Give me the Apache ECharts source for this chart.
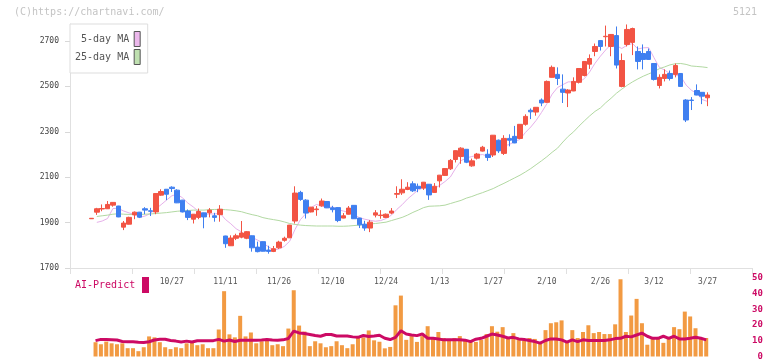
<!DOCTYPE html>
<html><head><meta charset="utf-8">
<script src="https://cdn.jsdelivr.net/npm/echarts@6/dist/echarts.min.js"></script>
<style>html,body{margin:0;padding:0;background:#fff}#c{width:772px;height:361px}</style>
</head><body><div id="c"></div>
<script>
const dates = ['10/3','10/6','10/7','10/8','10/9','10/10','10/14','10/15','10/16','10/17',
'10/20','10/21','10/22','10/23','10/24','10/27','10/28','10/29','10/30','10/31',
'11/4','11/5','11/6','11/7','11/10','11/11','11/12','11/13','11/14','11/17',
'11/18','11/19','11/20','11/21','11/25','11/26','11/27','11/28','12/1','12/2',
'12/3','12/4','12/5','12/8','12/9','12/10','12/11','12/12','12/15','12/16',
'12/17','12/18','12/19','12/22','12/23','12/24','12/25','12/26','12/29','12/30',
'1/5','1/6','1/7','1/8','1/9','1/13','1/14','1/15','1/16','1/19',
'1/20','1/21','1/22','1/23','1/26','1/27','1/28','1/29','1/30','2/2',
'2/3','2/4','2/5','2/6','2/9','2/10','2/12','2/13','2/16','2/17',
'2/18','2/19','2/20','2/24','2/25','2/26','2/27','3/2','3/3','3/4',
'3/5','3/6','3/9','3/10','3/11','3/12','3/13','3/16','3/17','3/18',
'3/19','3/23','3/24','3/25','3/26','3/27'];

const opens = [1917,1946,1960,1961,1977,1973,1880,1893,1934,1946,
1961,1952,1947,2021,2047,2056,2043,1999,1951,1915,
1923,1943,1943,1930,1935,1841,1798,1831,1836,1831,
1842,1792,1816,1779,1773,1789,1822,1833,1907,2033,
1999,1947,1957,1974,1993,1965,1966,1920,1937,1976,
1920,1893,1876,1933,1931,1923,1942,2025,2031,2046,
2071,2060,2052,2069,2033,2084,2108,2137,2178,2191,
2223,2150,2184,2215,2201,2198,2263,2205,2271,2280,
2271,2333,2395,2387,2440,2430,2540,2553,2488,2471,
2480,2518,2548,2598,2654,2702,2719,2676,2724,2500,
2685,2694,2654,2645,2654,2601,2504,2535,2557,2553,
2557,2440,2440,2482,2474,2450];
const closes = [1919,1961,1962,1980,1989,1925,1898,1923,1946,1924,
1955,1950,2028,2037,2025,2050,1987,1947,1923,1937,
1949,1925,1955,1923,1959,1807,1832,1842,1854,1860,
1789,1772,1774,1773,1785,1814,1831,1889,2030,2002,
1942,1968,1960,1995,1965,1957,1909,1930,1964,1917,
1890,1876,1902,1943,1933,1937,1951,2028,2047,2056,
2040,2050,2078,2022,2060,2109,2138,2174,2217,2228,
2166,2172,2202,2232,2187,2285,2216,2271,2263,2251,
2333,2368,2388,2408,2427,2522,2584,2535,2474,2484,
2522,2579,2610,2623,2676,2676,2721,2729,2594,2614,
2751,2755,2610,2619,2619,2531,2540,2553,2535,2592,
2500,2352,2438,2462,2457,2462];
const lows = [1916,1934,1950,1960,1970,1924,1867,1892,1915,1920,
1937,1929,1937,2018,1999,2035,1986,1945,1911,1896,
1915,1875,1923,1904,1904,1789,1797,1823,1831,1827,
1772,1769,1773,1763,1770,1784,1816,1832,1896,1996,
1918,1945,1930,1970,1964,1945,1902,1919,1936,1916,
1876,1864,1858,1923,1917,1920,1937,2008,2022,2043,
2035,2034,2044,2000,2032,2055,2107,2132,2165,2159,
2162,2146,2178,2213,2172,2189,2207,2198,2236,2250,
2268,2327,2356,2371,2413,2427,2539,2506,2427,2409,
2479,2513,2544,2577,2633,2658,2676,2633,2579,2496,
2676,2638,2575,2575,2618,2526,2491,2522,2526,2540,
2499,2343,2396,2461,2422,2413];
const highs = [1920,1965,1980,1995,1990,1974,1907,1926,1949,1947,
1968,1965,2029,2047,2048,2060,2047,2000,1958,1938,
1962,1944,1964,1943,1977,1842,1844,1851,1907,1863,
1843,1816,1817,1798,1797,1820,1838,1890,2060,2040,
2003,1969,1973,2006,1994,1974,1968,1942,1973,1977,
1921,1908,1911,1955,1955,1940,1964,2060,2091,2078,
2082,2072,2079,2070,2074,2110,2139,2180,2218,2232,
2224,2182,2207,2238,2223,2286,2266,2285,2289,2326,
2334,2377,2403,2409,2447,2526,2592,2584,2553,2488,
2540,2580,2611,2641,2689,2703,2768,2730,2764,2645,
2773,2759,2676,2685,2667,2602,2553,2575,2570,2601,
2558,2444,2453,2509,2475,2474];

const ma5 = [null,1901,1907,1918,1962,1963,1951,1943,1936,1923,
1929,1940,1961,1979,1999,2018,2025,2009,1986,1969,
1949,1936,1938,1938,1942,1914,1895,1873,1859,1839,
1835,1823,1810,1794,1779,1784,1795,1818,1870,1913,
1939,1966,1980,1973,1966,1969,1957,1951,1945,1935,
1922,1915,1910,1906,1909,1918,1933,1958,1979,2004,
2024,2044,2054,2049,2050,2064,2081,2101,2140,2173,
2185,2191,2197,2200,2192,2216,2224,2238,2244,2257,
2267,2297,2321,2350,2385,2423,2466,2495,2508,2520,
2520,2519,2534,2564,2602,2633,2661,2685,2679,2667,
2682,2689,2665,2670,2671,2627,2584,2572,2556,2550,
2544,2506,2483,2469,2442,2434];
const ma25 = [null,1927,1930,1933,1937,1939,1937,1936,1936,1936,
1937,1938,1940,1942,1944,1947,1950,1952,1953,1955,
1955,1955,1957,1958,1958,1957,1955,1952,1948,1941,
1935,1930,1922,1917,1913,1909,1903,1896,1892,1889,
1887,1886,1885,1885,1885,1885,1884,1884,1885,1887,
1889,1891,1894,1896,1899,1902,1909,1916,1923,1933,
1945,1955,1966,1972,1973,1974,1977,1984,1991,1998,
2008,2015,2024,2032,2041,2050,2062,2073,2085,2097,
2109,2123,2138,2155,2172,2190,2210,2228,2255,2280,
2300,2325,2348,2370,2390,2405,2428,2448,2470,2488,
2505,2520,2533,2545,2555,2565,2578,2586,2595,2600,
2601,2597,2590,2588,2586,2583];

const volume = [null,9.1,7.8,9.5,8.4,7.8,8.4,5.3,5.3,3.4,
5.9,12.8,12.2,9.1,5.9,4.7,5.9,5.3,8.4,9.1,
7.2,7.8,5.3,5.3,17.2,41.6,14.1,12.2,25.9,12.8,
15.3,8.4,9.7,10.3,7.2,7.8,6.6,17.8,42.2,19.7,
15.9,6.6,9.7,8.4,5.9,6.6,9.7,7.2,5.3,7.8,
12.2,12.2,16.6,10.3,9.4,5.2,6.1,32.6,38.8,10.6,
13,9.3,13,19.3,11.2,15.6,11.8,11.2,11.8,13,
10,10,9.3,10.6,14.3,19.3,15.8,18.7,11.2,14.9,
11.2,10,11.8,11.2,8.1,16.8,21.2,21.8,23,10,
16.8,11.8,15.6,19.9,14.9,15.6,14.3,14.3,20.5,49.2,
15.6,26.1,36.7,21.2,7.5,11.2,11.2,8.7,12.4,18.7,
17.4,28.6,25.5,18,11.2,11.8];
const aiPredict = [null,10.1,10.9,10.9,10.7,10.5,9.6,9.4,9.4,9.1,
8.9,9.4,10.5,11.0,11.0,10.2,9.8,9.2,9.8,9.2,
10.0,10.1,10.1,10.1,10.9,9.8,10.5,9.6,10.3,10.3,
10.3,10.3,10.5,10.9,10.5,10.3,10.6,11.5,16.2,15.0,
14.6,14.0,13.4,12.9,14.0,14.0,13.1,13.1,13.1,12.5,
12.2,13.4,12.8,13.1,13.5,11.6,10.8,12.2,16.4,14.3,
13.7,13.3,14.3,11.6,11.6,11.2,10.6,10.6,10.6,10.6,
10.4,9.5,11.0,11.6,12.9,14.3,13.7,12.9,11.8,12.2,
11.2,10.8,10.2,9.5,8.5,10.2,11.2,11.2,10.6,9.1,
10.6,9.5,10.6,10.2,10.2,10.2,10.2,10.6,11.4,11.6,
12.9,12.5,13.7,14.9,12.9,11.6,11.6,12.9,11.6,12.9,
11.2,11.2,11.6,12.2,11.6,10.6];

const priceTicks = [1700,1900,2100,2300,2500,2700];
const rightTicks = [0,10,20,30,40,50];

const MONO = 'DejaVu Sans Mono';
const UP = '#f25444', DOWN = '#3f7ff0';
const CRIMSON = '#cc0a64';
const candles = dates.map((d, i) => [opens[i], closes[i], lows[i], highs[i]]);

const chart = echarts.init(document.getElementById('c'), null, {renderer: 'canvas'});
chart.setOption({
  animation: false,
  backgroundColor: '#fff',
  title: [
    {text: '(C)https://chartnavi.com/', left: 14, top: 7, padding: 0,
     textStyle: {fontFamily: MONO, fontSize: 10, fontWeight: 'normal', color: '#c4c4c4'}},
    {text: '5121', right: 15, top: 7, padding: 0,
     textStyle: {fontFamily: MONO, fontSize: 10, fontWeight: 'normal', color: '#c4c4c4'}}
  ],
  legend: {
    orient: 'vertical', align: 'right', left: 70, top: 24,
    icon: 'rect', itemWidth: 6, itemHeight: 15, itemGap: 2,
    padding: [7, 7, 8, 5],
    backgroundColor: '#fff', borderColor: '#dddddd', borderWidth: 1,
    selectedMode: false,
    textStyle: {fontFamily: MONO, fontSize: 10, color: '#555'},
    data: [
      {name: '5-day MA', itemStyle: {color: '#ecb8ec', borderColor: '#555', borderWidth: 1}},
      {name: '25-day MA', itemStyle: {color: '#bfe0b0', borderColor: '#555', borderWidth: 1}}
    ]
  },
  grid: [
    {left: 88.8, right: 61.8, top: 24, height: 244},
    {left: 70, right: 20, top: 24, height: 244},
    {left: 87.5, right: 63.1, top: 278, height: 80.5}
  ],
  xAxis: [
    {type: 'category', gridIndex: 0, data: dates, boundaryGap: true,
     axisLine: {show: false}, axisTick: {show: false},
     axisLabel: {interval: (idx) => idx >= 15 && idx % 10 === 5, fontFamily: MONO, fontSize: 8, color: '#555', margin: 10}},
    {type: 'value', gridIndex: 1, min: 0, max: 11, interval: 1,
     axisLine: {show: true, lineStyle: {color: '#e0e0e0', width: 1}},
     axisTick: {show: true, length: 6, lineStyle: {color: '#e0e0e0', width: 1}},
     axisLabel: {show: false}, splitLine: {show: false}},
    {type: 'category', gridIndex: 2, data: dates, boundaryGap: true, show: false}
  ],
  yAxis: [
    {type: 'value', gridIndex: 0, min: 1700, max: 2775, show: false, splitLine: {show: false}},
    {type: 'value', gridIndex: 1, min: 1700, max: 2775,
     axisLine: {show: true, lineStyle: {color: '#e0e0e0', width: 1}},
     axisTick: {show: true, length: 5, customValues: priceTicks, lineStyle: {color: '#d8d8d8'}},
     axisLabel: {customValues: priceTicks, formatter: (v) => String(v), fontFamily: MONO, fontSize: 8, color: '#444', margin: 11},
     splitLine: {show: false}},
    {type: 'value', gridIndex: 2, position: 'right', min: 0, max: 50, interval: 10,
     axisLine: {show: false}, axisTick: {show: false}, splitLine: {show: false},
     axisLabel: {customValues: rightTicks, formatter: (v) => String(v), fontFamily: MONO, fontSize: 9, fontWeight: 'bold', color: CRIMSON, align: 'right', margin: 54}}
  ],
  graphic: [
    {type: 'text', left: 75, top: 280, z: 100,
     style: {text: 'AI-Predict', fill: CRIMSON, font: '10px "DejaVu Sans Mono"'}},
    {type: 'rect', z: 100, shape: {x: 142, y: 277, width: 7, height: 16}, style: {fill: CRIMSON}}
  ],
  series: [
    {name: '5-day MA', type: 'line', xAxisIndex: 0, yAxisIndex: 0, data: ma5,
     showSymbol: false, symbol: 'none', z: 2, lineStyle: {color: '#e6b0ea', width: 1}, itemStyle: {color: '#ecb8ec'}},
    {name: '25-day MA', type: 'line', xAxisIndex: 0, yAxisIndex: 0, data: ma25,
     showSymbol: false, symbol: 'none', z: 2, lineStyle: {color: '#b2d9a2', width: 1}, itemStyle: {color: '#bfe0b0'}},
    {name: 'price', type: 'candlestick', xAxisIndex: 0, yAxisIndex: 0, data: candles, barWidth: 5, z: 3,
     itemStyle: {color: UP, color0: DOWN, borderColor: UP, borderColor0: DOWN, borderWidth: 1}},
    {name: 'frame', type: 'line', xAxisIndex: 1, yAxisIndex: 1, data: [], silent: true},
    {name: 'volume', type: 'bar', xAxisIndex: 2, yAxisIndex: 2, data: volume, barWidth: 4,
     itemStyle: {color: '#f29a42'}},
    {name: 'AI-Predict', type: 'line', xAxisIndex: 2, yAxisIndex: 2, data: aiPredict,
     showSymbol: false, symbol: 'none', z: 4, lineStyle: {color: CRIMSON, width: 3}}
  ]
});
</script></body></html>
